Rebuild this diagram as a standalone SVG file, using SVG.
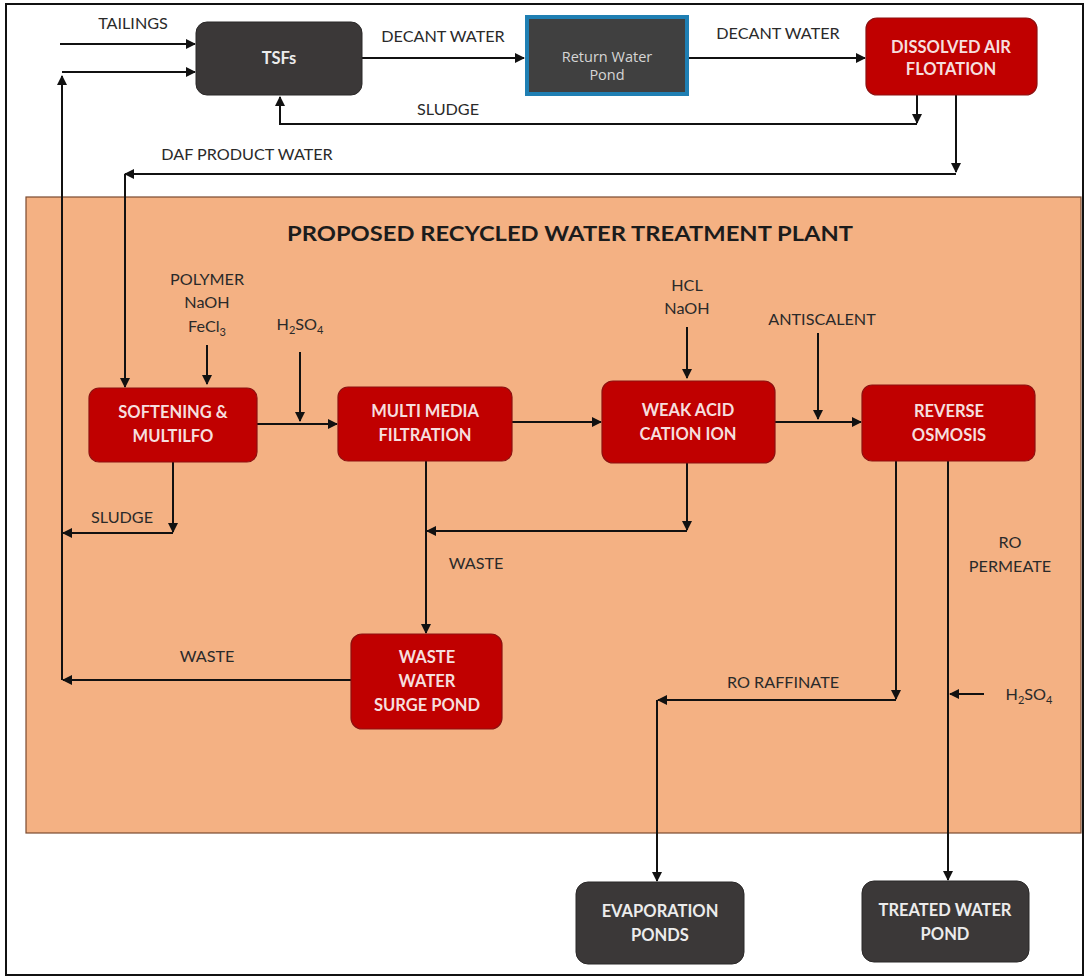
<svg xmlns="http://www.w3.org/2000/svg" width="1087" height="979" viewBox="0 0 1087 979">
<style>
.lbl{font-family:Lato,"Open Sans",sans-serif;font-size:16.2px;fill:#2a2a2a;text-anchor:middle}
.red rect{fill:#C00000;stroke:#8e1010;stroke-width:1.2}
.red text{font-family:Lato,"Open Sans",sans-serif;font-weight:bold;font-size:16.5px;fill:#f6dede;text-anchor:middle}
.dark rect{fill:#3b3838;stroke:#2a2828;stroke-width:1}
.dark text{font-family:Lato,"Open Sans",sans-serif;font-weight:bold;font-size:16.5px;fill:#ececec;text-anchor:middle}
.ln{fill:none;stroke:#111;stroke-width:2;marker-end:url(#ah)}
</style>
<defs>
<marker id="ah" viewBox="0 0 10 10" refX="9" refY="5" markerWidth="5" markerHeight="5" orient="auto" markerUnits="strokeWidth">
<path d="M0,0 L10,5 L0,10 z" fill="#111"/>
</marker>
</defs>
<rect x="0" y="0" width="1087" height="979" fill="#fff"/>
<rect x="6" y="4" width="1077" height="971" fill="none" stroke="#111" stroke-width="2"/>
<g id="plant">
<rect x="26" y="197" width="1055" height="636" fill="#F4B183" stroke="#7a4a30" stroke-width="1.2"/>
<text x="570" y="241" font-family="Lato,'Open Sans',sans-serif" font-weight="bold" font-size="20" fill="#1c1c1c" text-anchor="middle" textLength="566" lengthAdjust="spacingAndGlyphs">PROPOSED RECYCLED WATER TREATMENT PLANT</text>
</g>
<g id="connectors">
<line class="ln" x1="60" y1="44" x2="195" y2="44"/>
<line class="ln" x1="62" y1="680" x2="62" y2="76"/>
<line class="ln" x1="62" y1="72" x2="195" y2="72"/>
<line class="ln" x1="362" y1="58" x2="524" y2="58"/>
<line class="ln" x1="688" y1="58" x2="865" y2="58"/>
<line class="ln" x1="917" y1="95" x2="917" y2="123"/>
<polyline class="ln" points="917,124 280,124 280,97"/>
<line class="ln" x1="956" y1="95" x2="956" y2="172"/>
<polyline class="ln" points="956,174 125,174"/>
<line class="ln" x1="125" y1="174" x2="125" y2="387"/>
<line class="ln" x1="207" y1="345" x2="207" y2="384"/>
<line class="ln" x1="300" y1="352" x2="300" y2="421"/>
<line class="ln" x1="687" y1="327" x2="687" y2="378"/>
<line class="ln" x1="818" y1="333" x2="818" y2="419"/>
<line class="ln" x1="257" y1="424" x2="337" y2="424"/>
<line class="ln" x1="512" y1="422" x2="601" y2="422"/>
<line class="ln" x1="775" y1="422" x2="861" y2="422"/>
<line class="ln" x1="173" y1="462" x2="173" y2="532"/>
<line class="ln" x1="173" y1="533" x2="63" y2="533"/>
<line class="ln" x1="687" y1="463" x2="687" y2="530"/>
<line class="ln" x1="687" y1="531" x2="427" y2="531"/>
<line class="ln" x1="426" y1="461" x2="426" y2="633"/>
<line class="ln" x1="351" y1="680" x2="63" y2="680"/>
<line class="ln" x1="896" y1="461" x2="896" y2="699"/>
<line class="ln" x1="896" y1="700" x2="658" y2="700"/>
<line class="ln" x1="657" y1="700" x2="657" y2="881"/>
<line class="ln" x1="948" y1="461" x2="948" y2="880"/>
<line class="ln" x1="984" y1="694" x2="950" y2="694"/>
</g>
<g id="labels">
<text class="lbl" x="133" y="29">TAILINGS</text>
<text class="lbl" x="443" y="42">DECANT WATER</text>
<text class="lbl" x="778" y="39">DECANT WATER</text>
<text class="lbl" x="448" y="115">SLUDGE</text>
<text class="lbl" x="247" y="160">DAF PRODUCT WATER</text>
<text class="lbl" x="207" y="285">POLYMER</text>
<text class="lbl" x="207" y="308">NaOH</text>
<text class="lbl" x="207" y="332">FeCl<tspan font-size="11" dy="4">3</tspan></text>
<text class="lbl" x="300" y="330">H<tspan font-size="11" dy="4">2</tspan><tspan dy="-4">SO</tspan><tspan font-size="11" dy="4">4</tspan></text>
<text class="lbl" x="687" y="291">HCL</text>
<text class="lbl" x="687" y="314">NaOH</text>
<text class="lbl" x="822" y="325">ANTISCALENT</text>
<text class="lbl" x="122" y="523">SLUDGE</text>
<text class="lbl" x="476" y="569">WASTE</text>
<text class="lbl" x="207" y="662">WASTE</text>
<text class="lbl" x="783" y="688">RO RAFFINATE</text>
<text class="lbl" x="1010" y="548">RO</text>
<text class="lbl" x="1010" y="572">PERMEATE</text>
<text class="lbl" x="1029" y="700">H<tspan font-size="11" dy="4">2</tspan><tspan dy="-4">SO</tspan><tspan font-size="11" dy="4">4</tspan></text>
</g>
<g id="tsfs" class="dark">
<rect x="196" y="22" width="166" height="73" rx="11"/>
<text x="279" y="64" font-size="17">TSFs</text>
</g>
<g id="return-water-pond">
<rect x="527" y="17" width="160" height="77" fill="#404040" stroke="#1f7fb3" stroke-width="4"/>
<text x="607" y="62" font-family="'Open Sans',Lato,sans-serif" font-size="14.5" fill="#d6d6d6" text-anchor="middle">Return Water</text>
<text x="607" y="80" font-family="'Open Sans',Lato,sans-serif" font-size="14.5" fill="#d6d6d6" text-anchor="middle">Pond</text>
</g>
<g id="daf" class="red">
<rect x="866" y="18" width="171" height="77" rx="11"/>
<text x="951" y="53" font-size="17.5">DISSOLVED AIR</text>
<text x="951" y="75" font-size="17.5">FLOTATION</text>
</g>
<g id="softening" class="red">
<rect x="89" y="388" width="168" height="74" rx="10"/>
<text x="173" y="418">SOFTENING &amp;</text>
<text x="173" y="442">MULTILFO</text>
</g>
<g id="mmf" class="red">
<rect x="338" y="387" width="174" height="74" rx="10"/>
<text x="425" y="417">MULTI MEDIA</text>
<text x="425" y="441">FILTRATION</text>
</g>
<g id="wac" class="red">
<rect x="602" y="381" width="173" height="82" rx="11"/>
<text x="688" y="416">WEAK ACID</text>
<text x="688" y="440">CATION ION</text>
</g>
<g id="ro" class="red">
<rect x="862" y="385" width="173" height="76" rx="10"/>
<text x="949" y="417">REVERSE</text>
<text x="949" y="441">OSMOSIS</text>
</g>
<g id="surge-pond" class="red">
<rect x="351" y="634" width="151" height="95" rx="11"/>
<text x="427" y="663">WASTE</text>
<text x="427" y="687">WATER</text>
<text x="427" y="711">SURGE POND</text>
</g>
<g id="evaporation-ponds" class="dark">
<rect x="576" y="882" width="168" height="82" rx="12"/>
<text x="660" y="917">EVAPORATION</text>
<text x="660" y="941">PONDS</text>
</g>
<g id="treated-water-pond" class="dark">
<rect x="862" y="881" width="167" height="81" rx="12"/>
<text x="945" y="916">TREATED WATER</text>
<text x="945" y="940">POND</text>
</g>
</svg>
